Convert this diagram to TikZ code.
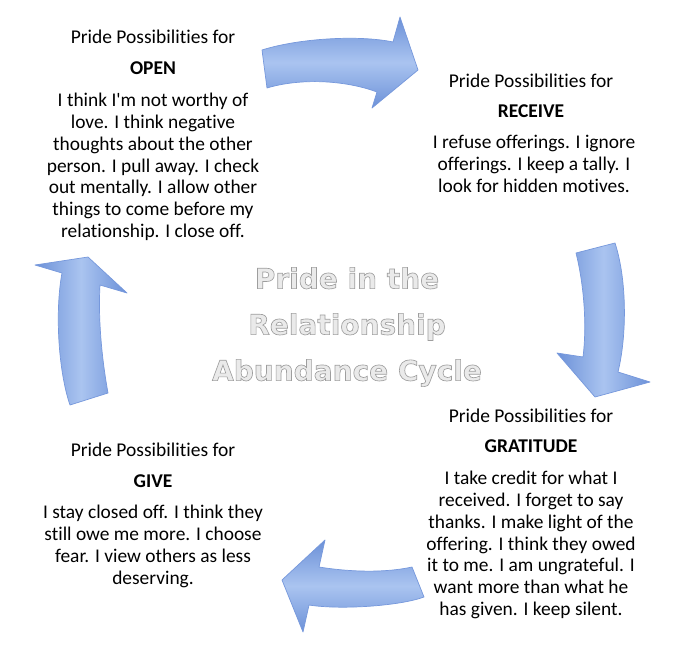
\documentclass[tikz,border=0pt]{standalone}
\usepackage{fontspec}
\setmainfont{Carlito}[Ligatures={TeXOff,CommonOff}]
\newfontfamily\ctrfont{DejaVu Sans}
\usepackage{xcolor}
\usetikzlibrary{positioning,calc}
\definecolor{arrowdk}{RGB}{108,145,216}
\definecolor{arrowlt}{RGB}{170,196,240}
\definecolor{arrowrim}{RGB}{118,152,220}
\definecolor{ctrfill}{RGB}{234,234,234}
\tikzset{
    ttl/.style={anchor=base,inner sep=0pt,font=\fontsize{19.5}{21.8}\selectfont},
    hdr/.style={ttl,font=\fontsize{19.5}{21.8}\selectfont\bfseries},
    body/.style={anchor=north,inner sep=0pt,align=center,
                 font=\fontsize{19.4}{21.8}\selectfont},
    cyc/.style={draw=arrowrim,line width=0.7pt,line join=round},
    ctr/.style={inner sep=0pt,align=center,text=ctrfill,
                font=\ctrfont\bfseries\fontsize{28}{46}\selectfont},
}
% outlined letters: fill and stroke text render mode
\newcommand\rimtext[1]{\special{pdf:literal direct 2 Tr 0.65 w 0.62 0.62 0.62 RG}#1\special{pdf:literal direct 0 Tr}}

\begin{document}
\begin{tikzpicture}[x=1pt,y=-1pt]
\fill[white] (0,0) rectangle (690,668);
\useasboundingbox (0,0) rectangle (690,668);

% cycle arrows
\path[cyc,top color=arrowdk,bottom color=arrowdk,middle color=arrowlt]
  (262,50) .. controls (300,38) and (360,35) .. (393,42) -- (400,17) -- (418,70)
  -- (372,108) -- (377,92) .. controls (345,80) and (300,78) .. (267,88) -- cycle;
\path[cyc,left color=arrowdk,right color=arrowdk,middle color=arrowlt]
  (615,243) .. controls (627,280) and (627,335) .. (618,372) -- (650,382) -- (595,397)
  -- (557,353) -- (583,357) .. controls (587,325) and (584,285) .. (576,253) -- cycle;
\path[cyc,top color=arrowdk,bottom color=arrowdk,middle color=arrowlt]
  (424,597) .. controls (400,606) and (340,610) .. (309,605) -- (303,632) -- (282,580)
  -- (325,540) -- (319,567) .. controls (350,572) and (385,573) .. (412,567) -- cycle;
\path[cyc,left color=arrowdk,right color=arrowdk,middle color=arrowlt]
  (70,405) .. controls (58,370) and (55,310) .. (62,273) -- (35,265) -- (88,257)
  -- (127,293) -- (100,285) .. controls (98,320) and (102,360) .. (108,393) -- cycle;

% center title
\node[ctr] (title) at (347,327) {\rimtext{Pride in the\\Relationship\\Abundance Cycle}};

% open
\node[ttl] (openttl) at (153,44) {Pride Possibilities for};
\node[hdr] (openhdr) at (153,74.5) {OPEN};
\node[body] (openbody) at (153,93) {I think I'm not worthy of\\love. I think negative\\thoughts about the other\\person. I pull away. I check\\out mentally. I allow other\\things to come before my\\relationship. I close off.};

% receive
\node[ttl] (recttl) at (531,88) {Pride Possibilities for};
\node[hdr] (rechdr) at (531,117.5) {RECEIVE};
\node[body] (recbody) at (534,135) {I refuse offerings. I ignore\\offerings. I keep a tally. I\\look for hidden motives.};

% gratitude
\node[ttl] (gratttl) at (531,422) {Pride Possibilities for};
\node[hdr] (grathdr) at (531,452) {GRATITUDE};
\node[body] (gratbody) at (531,471) {I take credit for what I\\received. I forget to say\\thanks. I make light of the\\offering. I think they owed\\it to me. I am ungrateful. I\\want more than what he\\has given. I keep silent.};

% give
\node[ttl] (givettl) at (153,456) {Pride Possibilities for};
\node[hdr] (givehdr) at (153,487) {GIVE};
\node[body] (givebody) at (153,505) {I stay closed off. I think they\\still owe me more. I choose\\fear. I view others as less\\deserving.};
\end{tikzpicture}
\end{document}
